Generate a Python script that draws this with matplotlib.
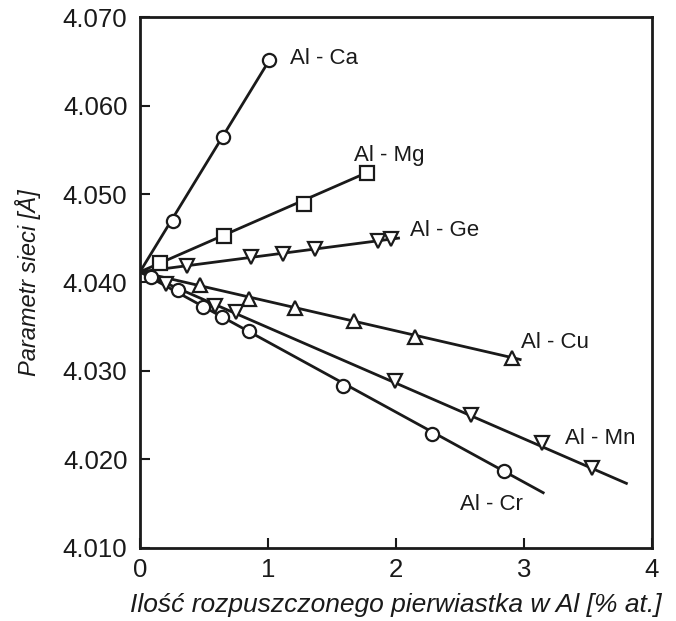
import matplotlib.pyplot as plt

plt.rcParams["font.family"] = ["Liberation Sans", "DejaVu Sans"]

# lattice parameter of pure Al (common start of all lines)
a0 = 4.0412

ca_x = [0.26, 0.65, 1.01]
ca_y = [4.0470, 4.0564, 4.0651]
ca_end = 1.01

mg_x = [0.16, 0.66, 1.28, 1.77]
mg_y = [4.0422, 4.0453, 4.0489, 4.0524]
mg_end = 1.80

ge_x = [0.37, 0.87, 1.12, 1.37, 1.86, 1.96]
ge_y = [4.0419, 4.0429, 4.0432, 4.0438, 4.0447, 4.0449]
ge_end = 2.02

cu_x = [0.47, 0.85, 1.21, 1.67, 2.15, 2.91]
cu_y = [4.0397, 4.0381, 4.0371, 4.0356, 4.0338, 4.0315]
cu_end = 2.97

mn_x = [0.20, 0.59, 0.75, 1.99, 2.59, 3.14, 3.53]
mn_y = [4.0398, 4.0373, 4.0367, 4.0289, 4.0250, 4.0219, 4.0190]
mn_end = 3.80

cr_x = [0.09, 0.30, 0.49, 0.64, 0.85, 1.59, 2.28, 2.84]
cr_y = [4.0406, 4.0392, 4.0372, 4.0361, 4.0345, 4.0283, 4.0229, 4.0187]
cr_end = 3.15

series = [
    ("Al - Ca", ca_x, ca_y, ca_end, "o", (1.17, 4.0653), "left"),
    ("Al - Mg", mg_x, mg_y, mg_end, "s", (1.95, 4.0543), "center"),
    ("Al - Ge", ge_x, ge_y, ge_end, "v", (2.11, 4.0459), "left"),
    ("Al - Cu", cu_x, cu_y, cu_end, "^", (2.98, 4.0332), "left"),
    ("Al - Mn", mn_x, mn_y, mn_end, "v", (3.32, 4.0224), "left"),
    ("Al - Cr", cr_x, cr_y, cr_end, "o", (2.50, 4.0149), "left"),
]

ink = "#1a1a1a"

fig = plt.figure(figsize=(6.76, 6.21), dpi=100)
ax = fig.add_axes([0.207, 0.1176, 0.7575, 0.855])

for name, xs, ys, x_end, mk, pos, ha in series:
    # straight line from the pure-Al point through the last point to its end
    slope = (ys[-1] - a0) / xs[-1]
    ax.plot([0, x_end], [a0, a0 + slope * x_end], color=ink, lw=2.0, zorder=2)
    ms = 9.5 if mk in ("o", "s") else 10.5
    ax.plot(xs, ys, linestyle="none", marker=mk, ms=ms, mfc="white",
            mec=ink, mew=1.6, zorder=3)
    ax.text(pos[0], pos[1], name, fontsize=16, ha=ha, va="center", color=ink)

ax.set_xlim(0, 4)
ax.set_ylim(4.010, 4.070)
ax.set_xticks([0, 1, 2, 3, 4])
ax.set_yticks([4.010, 4.020, 4.030, 4.040, 4.050, 4.060, 4.070])
ax.set_yticklabels(["4.010", "4.020", "4.030", "4.040", "4.050", "4.060", "4.070"])
ax.tick_params(direction="in", length=7, width=1.5, labelsize=18.5, color=ink,
               labelcolor=ink, top=False, right=False)
ax.tick_params(axis="y", pad=9)
ax.tick_params(axis="x", pad=7)
for sp in ax.spines.values():
    sp.set_linewidth(2.0)
    sp.set_color(ink)

ax.set_xlabel("Ilość rozpuszczonego pierwiastka w Al [% at.]", fontsize=19,
              style="italic", color=ink, labelpad=8)
ax.set_ylabel("Parametr sieci [Å]", fontsize=17, style="italic", color=ink,
              labelpad=16)

fig.savefig("out.png", dpi=100)
